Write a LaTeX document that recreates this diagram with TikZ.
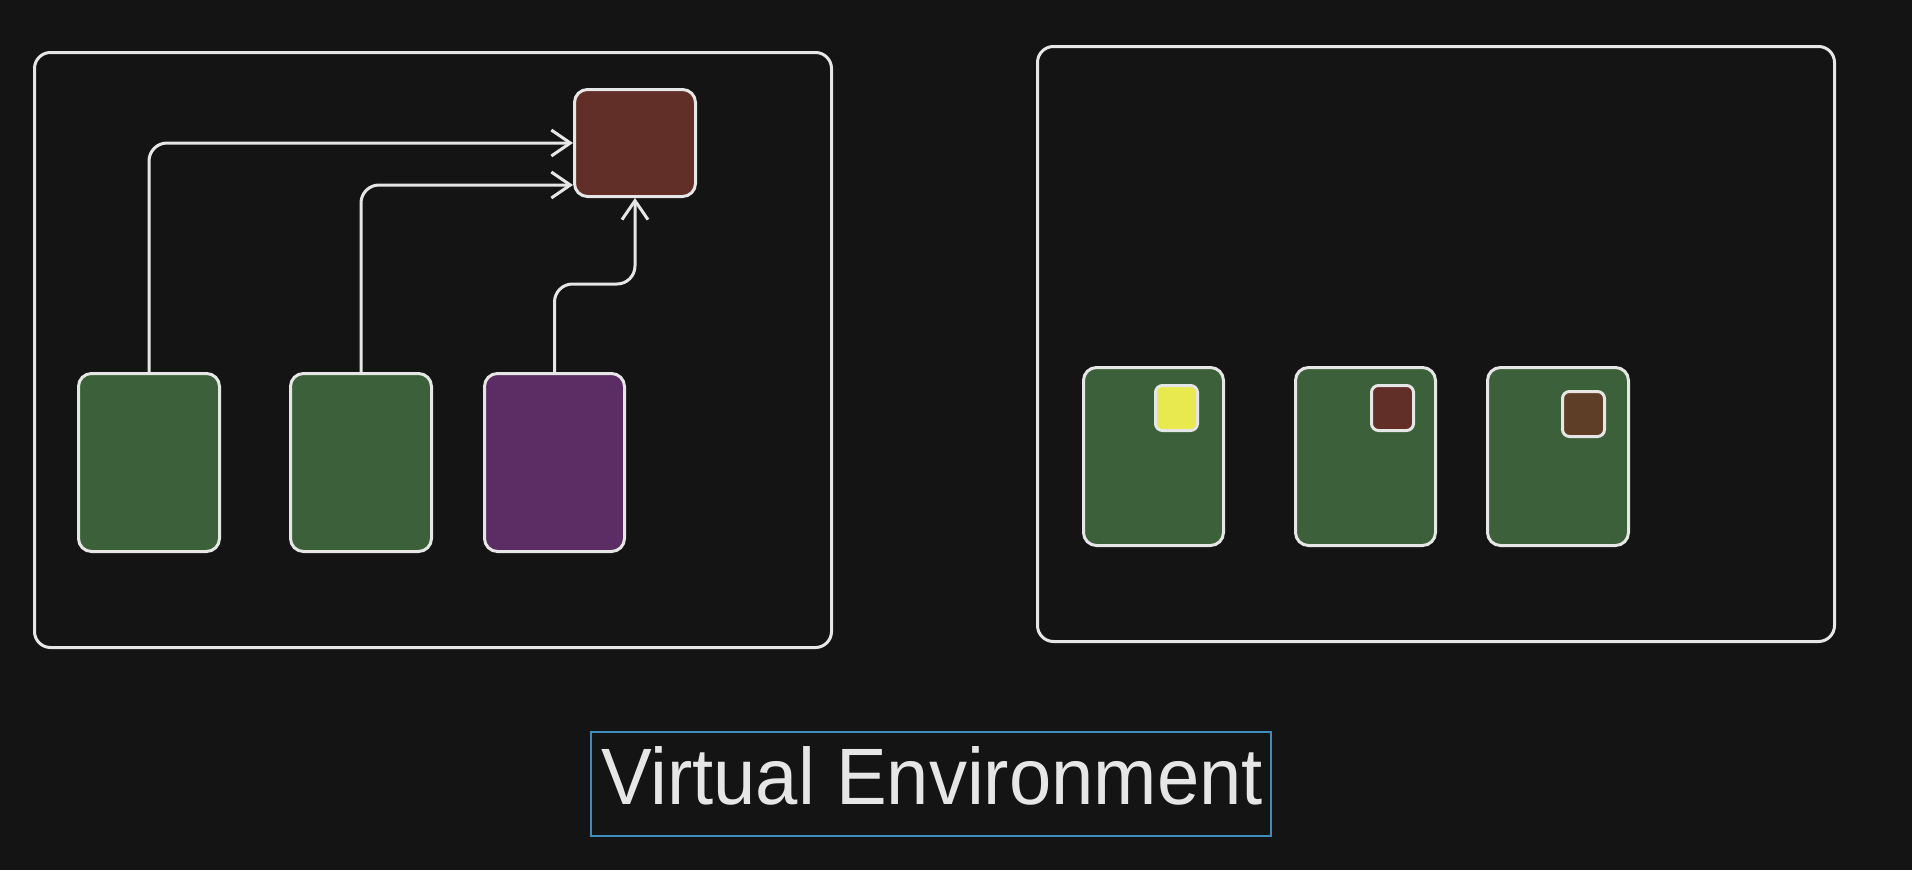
\documentclass[tikz,border=0pt]{standalone}
\usepackage{fontspec}
\setmainfont{Liberation Sans}
\usetikzlibrary{arrows.meta,calc}
\definecolor{bg}{HTML}{141414}
\definecolor{strk}{HTML}{E6E6E6}
\definecolor{grn}{HTML}{3C6039}
\definecolor{purp}{HTML}{5C2D64}
\definecolor{redb}{HTML}{612E28}
\definecolor{yel}{HTML}{E8E84F}
\definecolor{brn}{HTML}{5E3E27}
\definecolor{selblue}{HTML}{3A8DBF}
\tikzset{
  frame/.style={draw=strk, line width=3pt, rounded corners=16pt, anchor=north west, inner sep=0pt},
  card/.style={draw=strk, line width=3pt, rounded corners=13pt, anchor=north west, inner sep=0pt, minimum width=141pt, minimum height=178pt},
  chip/.style={draw=strk, line width=3pt, rounded corners=7pt, anchor=north west, inner sep=0pt, minimum width=42pt, minimum height=45pt},
  link/.style={draw=strk, line width=3pt, rounded corners=18pt, -{Straight Barb[length=19pt,width=26pt,line width=3pt]}},
}
\begin{document}
\begin{tikzpicture}[x=1pt,y=-1pt]
\fill[bg] (0,0) rectangle (1912,870);
\useasboundingbox (0,0) rectangle (1912,870);
% left frame
\node[frame, minimum width=797pt, minimum height=595pt] (lf) at (33,51) {};
\node[card, fill=grn] (g1) at (77,372) {};
\node[card, fill=grn] (g2) at (289,372) {};
\node[card, fill=purp, minimum width=140pt] (pu) at (483,372) {};
\node[draw=strk, line width=3pt, rounded corners=13pt, anchor=north west, inner sep=0pt, minimum width=121pt, minimum height=107pt, fill=redb] (red) at (573,88) {};
\draw[link] (g1.north) |- (red.west);
\draw[link] (g2.north) |- ($(red.south west)+(0,-13)$);
\draw[link] (pu.north) -- ++(0,-88) -| (red.south);
% right frame
\node[frame, minimum width=797pt, minimum height=595pt] (rf) at (1036,45) {};
\node[card, fill=grn, minimum width=140pt] (h1) at (1082,366) {};
\node[card, fill=grn, minimum width=140pt] (h2) at (1294,366) {};
\node[card, fill=grn] (h3) at (1486,366) {};
\node[chip, fill=yel] (c1) at (1154,384) {};
\node[chip, fill=redb] (c2) at (1370,384) {};
\node[chip, fill=brn] (c3) at (1561,390) {};
% label
\node[draw=selblue, line width=1.5pt, minimum width=680pt, minimum height=104pt, inner sep=0pt] (lbox) at (931,784) {};
\node[text=strk, anchor=base, inner sep=0pt] (lbl) at (932,804) {\fontsize{80}{80}\selectfont\scalebox{0.95}[1]{Virtual Environment}};
\end{tikzpicture}
\end{document}
